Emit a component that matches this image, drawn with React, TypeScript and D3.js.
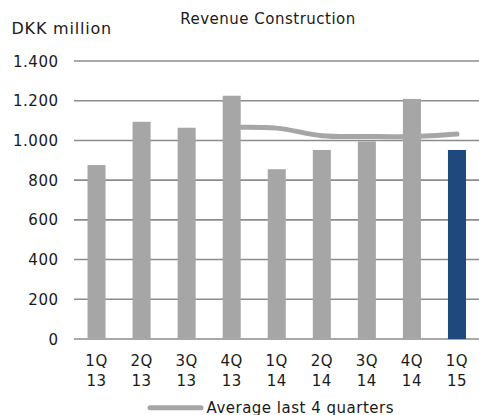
import React from "react";
import * as d3 from "d3";

const categories = ["1Q 13", "2Q 13", "3Q 13", "4Q 13", "1Q 14", "2Q 14", "3Q 14", "4Q 14", "1Q 15"];
const revenue = [876, 1094, 1064, 1225, 855, 952, 995, 1209, 952];
const avgCategories = ["4Q 13", "1Q 14", "2Q 14", "3Q 14", "4Q 14", "1Q 15"];
const avgLast4 = [1066, 1062, 1024, 1020, 1019, 1032];
const yTicks = [0, 200, 400, 600, 800, 1000, 1200, 1400];
const yTickLabels = ["0", "200", "400", "600", "800", "1.000", "1.200", "1.400"];
const title = "Revenue Construction";
const unitLabel = "DKK million";
const legendLabel = "Average last 4 quarters";

const W = 479;
const H = 415;
const FONT = "'DejaVu Sans', Verdana, sans-serif";
const GREY = "#a6a6a6";
const BLUE = "#1f497d";
const GRID = "#8c8c8c";
const TEXT = "#1a1a1a";

export default function App() {
  const x = d3.scaleBand<string>().domain(categories).range([74, 479.5]).paddingInner(0.6).paddingOuter(0.3);
  const y = d3.scaleLinear().domain([0, 1400]).range([339, 61]);
  const cx = (c: string) => (x(c) ?? 0) + x.bandwidth() / 2;

  const line = d3
    .line<number>()
    .x((_, i) => cx(avgCategories[i]))
    .y((d) => y(d))
    .curve(d3.curveCatmullRom.alpha(0.5));

  const textStyle: React.CSSProperties = { fontFamily: FONT, fontSize: 15, letterSpacing: 0.5, fill: TEXT };

  return (
    <div style={{ position: "fixed", left: 0, top: 0 }}>
      <svg width={W} height={H} style={{ display: "block", background: "#fff" }}>
        <text x={268} y={24} textAnchor="middle" style={textStyle}>{title}</text>
        <text x={11.5} y={34.3} style={{ ...textStyle, fontSize: 16, letterSpacing: 0.8 }}>{unitLabel}</text>

        {yTicks.map((t, i) => (
          <g key={t}>
            <line x1={74} x2={479} y1={y(t)} y2={y(t)} stroke={GRID} strokeWidth={1.6} />
            <text x={58.5} y={y(t) + 5.5} textAnchor="end" style={textStyle}>{yTickLabels[i]}</text>
          </g>
        ))}

        {categories.map((c, i) => (
          <rect
            key={c}
            x={x(c)}
            y={y(revenue[i])}
            width={x.bandwidth()}
            height={y(0) - y(revenue[i])}
            fill={i === categories.length - 1 ? BLUE : GREY}
          />
        ))}

        <path d={line(avgLast4) ?? ""} fill="none" stroke={GREY} strokeWidth={5} strokeLinecap="round" strokeLinejoin="round" />

        {categories.map((c) => {
          const [a, b] = c.split(" ");
          return (
            <g key={c}>
              <text x={cx(c)} y={366} textAnchor="middle" style={textStyle}>{a}</text>
              <text x={cx(c)} y={385.7} textAnchor="middle" style={textStyle}>{b}</text>
            </g>
          );
        })}

        <line x1={150} x2={201} y1={407.7} y2={407.7} stroke={GREY} strokeWidth={5} strokeLinecap="round" />
        <text x={206.5} y={412.5} style={textStyle}>{legendLabel}</text>
      </svg>
    </div>
  );
}
